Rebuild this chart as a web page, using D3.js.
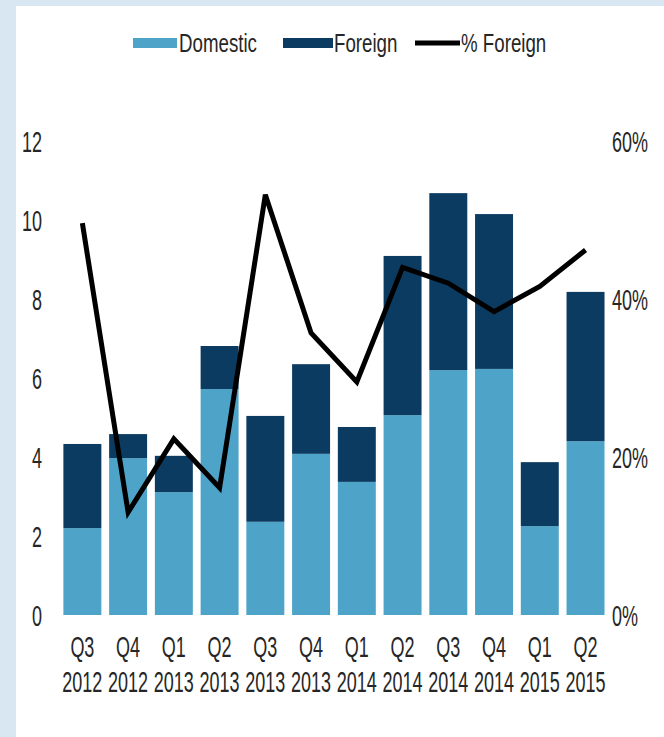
<!DOCTYPE html>
<html>
<head>
<meta charset="utf-8">
<script src="https://cdn.jsdelivr.net/npm/d3@7/dist/d3.min.js"></script>
<style>
  html, body { margin: 0; padding: 0; background: #d8e7f1; }
  svg { display: block; }
  text { font-family: "Liberation Sans", Arial, sans-serif; fill: #262626; }
</style>
</head>
<body>
<svg id="chart" width="664" height="737"></svg>
<script>
const quarters = ["Q3","Q4","Q1","Q2","Q3","Q4","Q1","Q2","Q3","Q4","Q1","Q2"];
const years    = ["2012","2012","2013","2013","2013","2013","2014","2014","2014","2014","2015","2015"];
const domestic = [2.2, 3.97, 3.11, 5.72, 2.36, 4.08, 3.37, 5.06, 6.2, 6.23, 2.25, 4.4];
const foreign  = [2.13, 0.61, 0.92, 1.09, 2.68, 2.27, 1.39, 4.03, 4.48, 3.92, 1.62, 3.78];
const pctForeign = [49.6, 13.0, 22.3, 16.1, 53.2, 35.7, 29.5, 44.0, 42.0, 38.4, 41.6, 46.2];
const leftTicks  = [0, 2, 4, 6, 8, 10, 12];
const rightTicks = [0, 20, 40, 60];
const seriesNames = ["Domestic", "Foreign", "% Foreign"];
const colors = { Domestic: "#4ea4c8", Foreign: "#0c3b62", line: "#000000" };

const svg = d3.select("#chart");
// white panel
svg.append("rect").attr("x", 16).attr("y", 6).attr("width", 664 - 16).attr("height", 737 - 6).attr("fill", "#ffffff");

const idx = d3.range(quarters.length);
const x = d3.scaleBand().domain(idx).range([59.5, 608.4]).paddingInner(0.17).paddingOuter(0.085);
const y = d3.scaleLinear().domain([0, 12]).range([615, 141]);
const y2 = d3.scaleLinear().domain([0, 60]).range([615, 141]);

const SX = 0.6, FS = 30;
function label(g, tx, ty, str, anchor, fs, sx) {
  g.append("text")
    .attr("transform", `translate(${tx},${ty}) scale(${sx},1)`)
    .attr("text-anchor", anchor)
    .attr("font-size", fs)
    .attr("dy", "0.36em")
    .text(str);
}

// bars
const stackData = idx.map(i => ({ i, Domestic: domestic[i], Foreign: foreign[i] }));
const stack = d3.stack().keys(["Domestic", "Foreign"])(stackData);
svg.append("g").selectAll("g").data(stack).join("g")
  .attr("fill", d => colors[d.key])
  .selectAll("rect").data(d => d).join("rect")
  .attr("x", d => x(d.data.i))
  .attr("width", x.bandwidth())
  .attr("y", d => y(d[1]))
  .attr("height", d => y(d[0]) - y(d[1]));

// line
const line = d3.line().x((d, i) => x(i) + x.bandwidth() / 2).y(d => y2(d));
svg.append("path").datum(pctForeign)
  .attr("d", line)
  .attr("fill", "none")
  .attr("stroke", colors.line)
  .attr("stroke-width", 5)
  .attr("stroke-linejoin", "miter")
  .attr("stroke-miterlimit", 4);

// left axis labels
const gl = svg.append("g");
leftTicks.forEach(t => label(gl, 42, y(t), String(t), "end", FS, SX));
// right axis labels
const gr = svg.append("g");
rightTicks.forEach(t => label(gr, 612, y2(t), t + "%", "start", FS, SX));

// x labels
const gx = svg.append("g");
idx.forEach(i => {
  const cx = x(i) + x.bandwidth() / 2;
  label(gx, cx, 646, quarters[i], "middle", FS, SX);
  label(gx, cx, 681, years[i], "middle", FS, SX);
});

// legend
const lg = svg.append("g");
const LFS = 26, LSX = 0.72;
lg.append("rect").attr("x", 133).attr("y", 38).attr("width", 44).attr("height", 10).attr("fill", colors.Domestic);
label(lg, 179, 43, seriesNames[0], "start", LFS, LSX);
lg.append("rect").attr("x", 283).attr("y", 38).attr("width", 50).attr("height", 10).attr("fill", colors.Foreign);
label(lg, 334, 43, seriesNames[1], "start", LFS, LSX);
lg.append("line").attr("x1", 415).attr("x2", 460).attr("y1", 43).attr("y2", 43).attr("stroke", colors.line).attr("stroke-width", 5);
label(lg, 461, 43, seriesNames[2], "start", LFS, LSX);
</script>
</body>
</html>
